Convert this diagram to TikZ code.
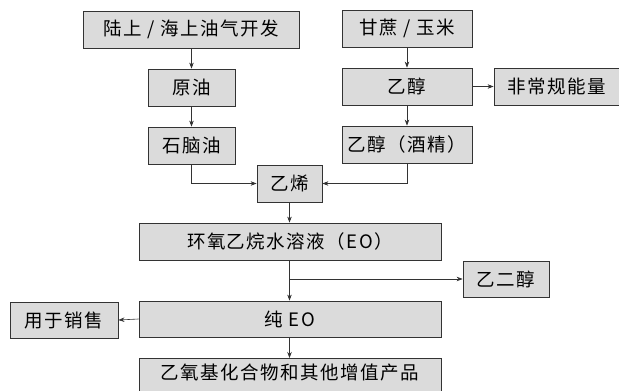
\documentclass[tikz,border=0pt]{standalone}
\usepackage{fontspec}
\setmainfont{Noto Sans CJK SC}[LetterSpace=8]
\usetikzlibrary{arrows.meta}
\begin{document}
\begin{tikzpicture}[x=1pt,y=-1pt,
  box/.style={draw=black!80,line width=0.8pt,fill=black!14,inner sep=0pt,font=\fontsize{18.5}{18.5}\selectfont},
  arr/.style={draw=black!80,line width=0.6pt,-{Stealth[length=6pt,width=4.5pt]}}]
\useasboundingbox (0,0) rectangle (619,391);
\clip (0,0) rectangle (619,391);
\fill[white] (0,0) rectangle (619,391);
\node[box,minimum width=216,minimum height=37] (land) at (191,29.5) {陆上 / 海上油气开发};
\node[box,minimum width=87,minimum height=37] (crude) at (191.5,87.5) {原油};
\node[box,minimum width=87,minimum height=37] (naph) at (191.5,145.5) {石脑油};
\node[box,minimum width=65,minimum height=37] (eth) at (289.5,183.5) {乙烯};
\node[box,minimum width=130,minimum height=37] (cane) at (407,28.5) {甘蔗 / 玉米};
\node[box,minimum width=130,minimum height=37] (etoh) at (407,86.5) {乙醇};
\node[box,minimum width=126,minimum height=37] (uncon) at (557,86.5) {非常规能量};
\node[box,minimum width=130,minimum height=37] (alc) at (407,144.5) {乙醇（酒精）};
\node[box,minimum width=302,minimum height=37] (eoaq) at (290,241.5) {环氧乙烷水溶液（EO）};
\node[box,minimum width=86,minimum height=36] (meg) at (506,279) {乙二醇};
\node[box,minimum width=302,minimum height=36] (peo) at (290,319) {纯 EO};
\node[box,minimum width=108,minimum height=36] (sale) at (64,320) {用于销售};
\node[box,minimum width=302,minimum height=40,anchor=north,text height=14pt,text depth=12pt] (prod) at (290,358) {乙氧基化合物和其他增值产品};
% connectors
\draw[arr] (land.south -| crude.north) -- (crude.north);
\draw[arr] (crude) -- (naph);
\draw[arr] (naph.south) |- (eth.west);
\draw[arr] (cane) -- (etoh);
\draw[arr] (etoh) -- (uncon.west);
\draw[arr] (etoh) -- (alc);
\draw[arr] (alc.south) |- (eth.east);
\draw[arr] (eth) -- (eth |- eoaq.north);
\draw[arr] (eth |- eoaq.south) -- (eth |- peo.north);
\coordinate (br) at (290,279);
\draw[arr] (br) -- (meg.west);
\draw[arr] (peo.west) -- (sale.east);
\draw[arr] (eth |- peo.south) -- (eth |- prod.north);
\end{tikzpicture}
\end{document}
